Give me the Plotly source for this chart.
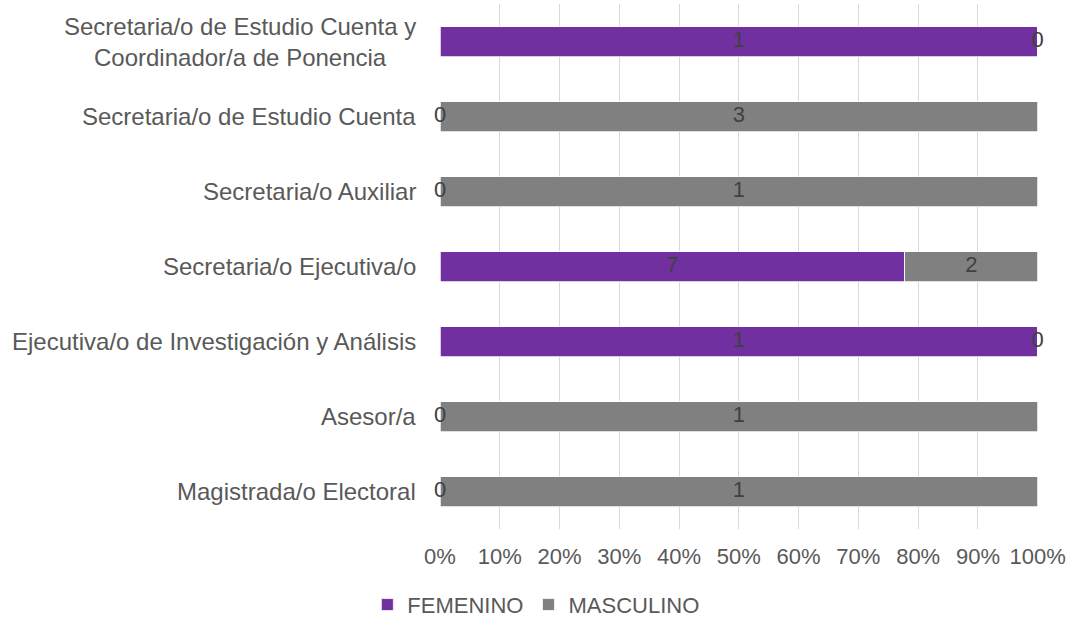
import plotly.graph_objects as go

categories = [
    "Magistrada/o Electoral",
    "Asesor/a",
    "Ejecutiva/o de Investigación y Análisis",
    "Secretaria/o Ejecutiva/o",
    "Secretaria/o Auxiliar",
    "Secretaria/o de Estudio Cuenta",
    "Secretaria/o de Estudio Cuenta y<br>Coordinador/a de Ponencia",
]
femenino = [0, 0, 1, 7, 0, 0, 1]
masculino = [1, 1, 0, 2, 1, 3, 0]
tick_vals = [0, 10, 20, 30, 40, 50, 60, 70, 80, 90, 100]
tick_text = [f"{v}%" for v in tick_vals]

PURPLE = "#7030A0"
GRAY = "#808080"
FONT = "Liberation Sans, Arial, sans-serif"

fig = go.Figure()
fig.add_trace(go.Bar(y=categories, x=femenino, name="FEMENINO", orientation="h",
                     marker=dict(color=PURPLE, line=dict(color="#FFFFFF", width=0.75)),
                     width=0.4, hoverinfo="skip"))
fig.add_trace(go.Bar(y=categories, x=masculino, name="MASCULINO", orientation="h",
                     marker=dict(color=GRAY, line=dict(color="#FFFFFF", width=0.75)),
                     width=0.4, hoverinfo="skip"))

# data labels at the centre of each (percent-normalised) segment
lx, ly, lt = [], [], []
for c, f, m in zip(categories, femenino, masculino):
    tot = f + m
    fp = f / tot * 100
    mp = m / tot * 100
    lx += [fp / 2, fp + mp / 2]
    ly += [c, c]
    lt += [str(f), str(m)]
fig.add_trace(go.Scatter(x=lx, y=ly, text=lt, mode="text", showlegend=False,
                         textfont=dict(color="#404040", size=22, family=FONT),
                         textposition="middle center", hoverinfo="skip", cliponaxis=False))

for c in categories:
    fig.add_annotation(x=0, y=c, xref="paper", yref="y", text=c, showarrow=False,
                       xanchor="right", yanchor="middle", align="center", xshift=-22,
                       font=dict(color="#595959", size=24, family=FONT))

fig.update_layout(
    barmode="stack", barnorm="percent",
    width=1071, height=623,
    margin=dict(l=440, r=33, t=4, b=94),
    paper_bgcolor="white", plot_bgcolor="white",
    font=dict(family=FONT, color="#595959", size=22),
    legend=dict(orientation="h", xref="container", yref="container",
                x=0.343, xanchor="left", y=0.063, yanchor="top",
                font=dict(size=22, color="#595959", family=FONT),
                traceorder="normal"),
    showlegend=True,
)
fig.update_xaxes(range=[0, 100.05], tickvals=tick_vals, ticktext=tick_text,
                 showgrid=True, gridcolor="#D9D9D9", gridwidth=1, zeroline=False,
                 showline=False, ticks="", ticklabelstandoff=12,
                 tickfont=dict(size=22, color="#595959", family=FONT), fixedrange=True)
fig.update_yaxes(categoryorder="array", categoryarray=categories, showticklabels=False,
                 showgrid=False, zeroline=False, showline=False, range=[-0.5, 6.5])

fig.write_html("out.html", config={"displayModeBar": False},
               post_script="document.body.style.margin='0';")
